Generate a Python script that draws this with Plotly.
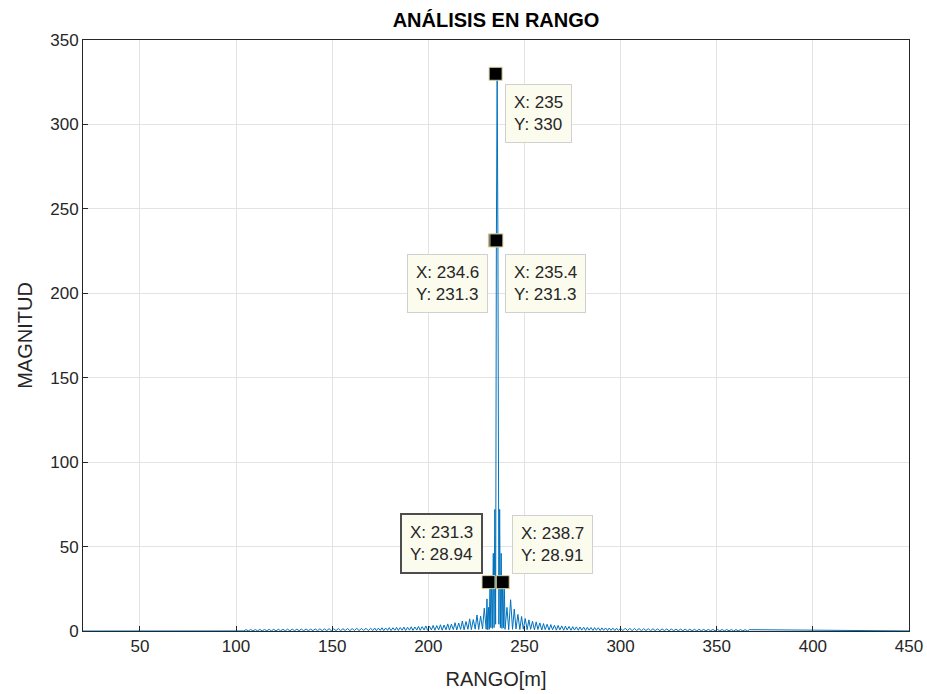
import plotly.graph_objects as go

# ---------------- data ----------------
# left side-lobes (trough/peak alternating)
left_x = [20, 103.0,
          104.0, 105.2, 106.4, 107.6, 108.8, 110.0, 111.2, 112.4, 113.6, 114.8, 116.0, 117.2, 118.4, 119.6,
          120.8, 122.0, 123.2, 124.4, 125.6, 126.8, 128.0, 129.2, 130.4, 131.6, 132.8, 134.0, 135.2, 136.4,
          137.6, 138.8, 140.0, 141.2, 142.4, 143.6, 144.8, 146.0, 147.2, 148.4, 149.6, 150.8, 152.0, 153.2,
          154.4, 155.6, 156.8, 158.0, 159.2, 160.4, 161.6, 162.8, 164.0, 165.2, 166.4, 167.6, 168.8, 170.0,
          171.2, 172.1, 173.0, 174.0, 175.0, 175.9, 176.8, 177.8, 178.8, 179.7, 180.6, 181.6, 182.6, 183.5,
          184.4, 185.4, 186.4, 187.3, 188.2, 189.2, 190.2, 191.1, 192.0, 193.0, 194.0, 194.9, 195.8, 196.8,
          197.8, 198.7, 199.6, 200.6, 201.6, 202.5, 203.4, 204.4, 205.4, 206.3, 207.2, 208.2, 209.2, 210.1,
          211.0, 212.0, 213.0, 213.9, 214.8, 215.8, 216.8, 217.7, 218.6, 219.6, 220.6, 221.5, 222.4, 223.4,
          224.4, 225.3, 226.2, 227.2, 228.2, 229.1, 230.1]
left_y = [0.0, 0.0,
          0.05, 0.80, 0.10, 0.86, 0.05, 0.84, 0.12, 0.92, 0.08, 0.88, 0.15, 0.95, 0.10, 0.97,
          0.12, 1.02, 0.08, 0.98, 0.18, 1.06, 0.10, 1.12, 0.15, 1.05, 0.20, 1.14, 0.12, 1.20,
          0.18, 1.10, 0.22, 1.24, 0.14, 1.30, 0.20, 1.22, 0.25, 1.36, 0.16, 1.28, 0.24, 1.42,
          0.20, 1.35, 0.28, 1.48, 0.18, 1.44, 0.30, 1.56, 0.22, 1.50, 0.32, 1.62, 0.25, 1.58,
          0.30, 1.75, 0.20, 1.66, 0.35, 1.90, 0.25, 1.80, 0.38, 2.00, 0.22, 1.92, 0.40, 2.15,
          0.30, 2.05, 0.45, 2.30, 0.28, 2.20, 0.50, 2.48, 0.35, 2.38, 0.52, 2.70, 0.40, 2.60,
          0.55, 3.00, 0.42, 2.85, 0.60, 3.30, 0.45, 3.20, 0.65, 3.70, 0.50, 3.55, 0.70, 4.20,
          0.55, 4.05, 0.80, 4.90, 0.60, 4.70, 0.90, 5.90, 0.70, 5.60, 1.00, 7.20, 0.80, 6.80,
          1.10, 9.50, 0.90, 8.80, 1.20, 13.5, 1.00, 19.0, 0.80]

# main lobe
center_x = [230.5, 230.9, 231.3, 231.7, 232.1, 232.5, 232.9, 233.3, 233.8, 234.2, 234.6, 235.0,
            235.4, 235.8, 236.2, 236.7, 237.1, 237.5, 237.9, 238.3, 238.7, 239.1, 239.5]
center_y = [14.0, 1.0, 28.94, 2.0, 30.0, 1.5, 46.0, 2.0, 72.0, 4.0, 231.3, 330.0,
            231.3, 4.0, 72.0, 2.0, 46.0, 1.5, 30.0, 2.0, 28.91, 1.0, 14.0]

# right side-lobes (trough/peak alternating)
right_x = [239.9, 240.9, 241.8, 242.8, 243.8, 244.7, 245.6, 246.6, 247.6, 248.5, 249.4, 250.4, 251.4,
           252.3, 253.2, 254.2, 255.2, 256.1, 257.0, 258.0, 259.0, 259.9, 260.8, 261.8, 262.8, 263.7,
           264.6, 265.6, 266.6, 267.5, 268.4, 269.4, 270.4, 271.3, 272.2, 273.2, 274.2, 275.1, 276.0,
           277.0, 278.0, 278.9, 279.8, 280.8, 281.8, 282.7, 283.6, 284.6, 285.6, 286.5, 287.4, 288.4,
           289.4, 290.3, 291.2, 292.2, 293.2, 294.1, 295.0, 296.0, 297.0, 297.9, 298.8,
           300.0, 301.2, 302.4, 303.6, 304.8, 306.0, 307.2, 308.4, 309.6, 310.8, 312.0, 313.2, 314.4,
           315.6, 316.8, 318.0, 319.2, 320.4, 321.6, 322.8, 324.0, 325.2, 326.4, 327.6, 328.8, 330.0,
           331.2, 332.4, 333.6, 334.8, 336.0, 337.2, 338.4, 339.6, 340.8, 342.0, 343.2, 344.4, 345.6,
           346.8, 348.0, 349.2, 350.4, 351.6, 352.8, 354.0, 355.2, 356.4, 357.6, 358.8, 360.0, 361.2,
           362.4, 363.6, 364.8, 366.0, 367.0, 450]
right_y = [0.8, 18.5, 1.0, 13.0, 1.2, 9.8, 0.9, 8.6, 1.1, 7.4, 0.8, 6.6, 1.0,
           5.8, 0.7, 5.4, 0.9, 4.8, 0.6, 4.4, 0.8, 4.0, 0.55, 3.8, 0.7, 3.4,
           0.5, 3.3, 0.65, 3.0, 0.45, 2.9, 0.6, 2.7, 0.42, 2.6, 0.55, 2.45, 0.40,
           2.35, 0.50, 2.25, 0.35, 2.15, 0.48, 2.05, 0.32, 2.00, 0.45, 1.92, 0.30, 1.85,
           0.40, 1.80, 0.28, 1.74, 0.36, 1.70, 0.25, 1.64, 0.34, 1.60, 0.22,
           1.62, 0.30, 1.52, 0.20, 1.50, 0.28, 1.44, 0.18, 1.40, 0.26, 1.36, 0.16, 1.32,
           0.24, 1.26, 0.15, 1.24, 0.22, 1.20, 0.14, 1.16, 0.20, 1.12, 0.12, 1.10, 0.18,
           1.06, 0.12, 1.04, 0.16, 1.00, 0.10, 0.98, 0.15, 0.96, 0.10, 0.94, 0.12, 0.92,
           0.08, 0.90, 0.12, 0.88, 0.08, 0.86, 0.10, 0.84, 0.06, 0.82, 0.08, 0.80, 0.05,
           0.80, 0.06, 0.78, 0.05, 0.0, 0.0]

# data tips
tip_x = [235.0, 234.6, 235.4, 231.3, 238.7]
tip_y = [330.0, 231.3, 231.3, 28.94, 28.91]
tip_labels = ["X: 235<br>Y: 330", "X: 234.6<br>Y: 231.3", "X: 235.4<br>Y: 231.3",
              "X: 231.3<br>Y: 28.94", "X: 238.7<br>Y: 28.91"]

x_ticks = [50, 100, 150, 200, 250, 300, 350, 400, 450]
y_ticks = [0, 50, 100, 150, 200, 250, 300, 350]

FONT = "Liberation Sans, Arial, Helvetica"

# ---------------- figure ----------------
xs = left_x + center_x + right_x
ys = left_y + center_y + right_y

fig = go.Figure()
fig.add_trace(go.Scatter(x=xs, y=ys, mode="lines",
                         line=dict(color="#0072BD", width=1), hoverinfo="skip"))
fig.add_trace(go.Scatter(x=tip_x, y=tip_y, mode="markers",
                         marker=dict(symbol="square", size=13, color="black",
                                     line=dict(color="#d9d3a0", width=1)),
                         hoverinfo="skip"))

# annotation placements: (xanchor, yanchor, xshift, yshift, border color, border width)
tip_place = [("left", "top", 9, -10, "#d0d0d0", 1),
             ("right", "top", -7, -14, "#d0d0d0", 1),
             ("left", "top", 9, -14, "#d0d0d0", 1),
             ("right", "bottom", -6, 8, "#4d4d4d", 2),
             ("left", "bottom", 9, 8, "#d0d0d0", 1)]
for (tx, ty, lab), (xa, ya, xs_, ys_, bc, bw) in zip(zip(tip_x, tip_y, tip_labels), tip_place):
    fig.add_annotation(x=tx, y=ty, xref="x", yref="y", text=lab, showarrow=False,
                       xanchor=xa, yanchor=ya, xshift=xs_, yshift=ys_, align="left",
                       bgcolor="#fbfbee", bordercolor=bc, borderwidth=bw, borderpad=8,
                       font=dict(family=FONT, size=17, color="#262626"))

axis_common = dict(showgrid=True, gridcolor="#e3e3e3", gridwidth=1, automargin=False,
                   showline=True, linecolor="#262626", linewidth=1, mirror=True,
                   ticks="inside", ticklen=5, tickcolor="#262626", zeroline=False,
                   ticklabeloverflow="allow",
                   tickfont=dict(family=FONT, size=17, color="#262626"))

fig.update_xaxes(range=[20.4, 450], tickvals=x_ticks, **axis_common,
                 title=dict(text="RANGO[m]", standoff=16,
                            font=dict(family=FONT, size=20, color="#262626")))
fig.update_yaxes(range=[0, 350], tickvals=y_ticks, **axis_common,
                 title=dict(text="MAGNITUD", standoff=12,
                            font=dict(family=FONT, size=20, color="#262626")))

W, H = 927, 694
fig.update_layout(
    width=W, height=H,
    margin=dict(l=83, r=18, t=40, b=63),
    paper_bgcolor="white", plot_bgcolor="white",
    showlegend=False,
    title=dict(text="<b>ANÁLISIS EN RANGO</b>", x=496 / W, xref="container", xanchor="center",
               y=1 - 20 / H, yref="container", yanchor="middle",
               font=dict(family=FONT, size=20, color="#000000")),
)

# remove the browser's default 8px page margin so the figure fills the 927x694 window
fig.write_html("out.html", config={"displayModeBar": False},
               post_script="document.body.style.margin='0';document.body.style.overflow='hidden';")
